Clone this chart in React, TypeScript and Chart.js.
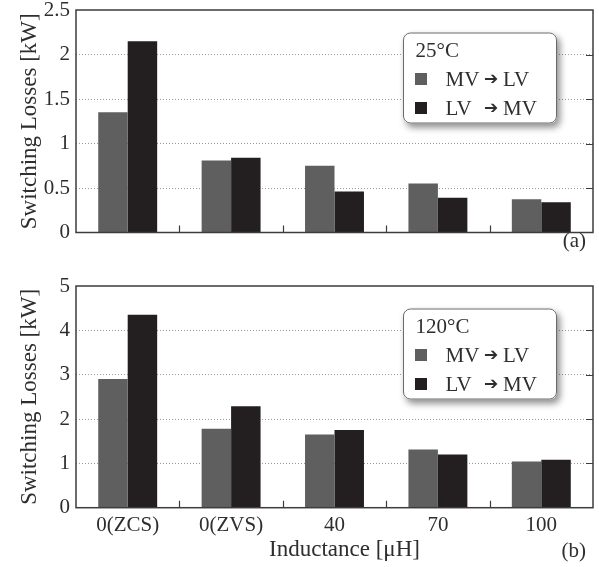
import React, { useEffect, useRef } from "react";
import { Chart, registerables } from "chart.js";

Chart.register(...registerables);

// ---------- data ----------
const categories = ["0(ZCS)", "0(ZVS)", "40", "70", "100"];
const legendFrom = ["MV", "LV"];
const legendTo = ["LV", "MV"];
const arrowGlyph = "➔";
const temperatures = ["25°C", "120°C"];
const panelLabels = ["(a)", "(b)"];
const yTitle = "Switching Losses [kW]";
const xTitle = "Inductance [μH]";

const mvToLv25 = [1.35, 0.81, 0.75, 0.55, 0.375];
const lvToMv25 = [2.15, 0.84, 0.46, 0.39, 0.34];
const mvToLv120 = [2.9, 1.78, 1.65, 1.31, 1.04];
const lvToMv120 = [4.35, 2.29, 1.75, 1.2, 1.08];

const yMax25 = 2.5;
const yStep25 = 0.5;
const yMax120 = 5;
const yStep120 = 1;

// ---------- styles ----------
const SERIF = '"Liberation Serif", "Times New Roman", serif';
const GRAY = "#5f5f5f";
const BLACK = "#231f20";
const TEXT = "#2e2e2e";
const FRAME = "#3c3c3c";

const decorPlugin = {
  id: "decor",
  afterDraw(chart: any, _args: any, opts: any) {
    const { ctx, chartArea: a, scales } = chart;
    const xs = scales.x;
    const ys = scales.y;
    ctx.save();

    // frame
    ctx.strokeStyle = FRAME;
    ctx.lineWidth = 1.5;
    ctx.strokeRect(a.left, a.top, a.right - a.left, a.bottom - a.top);

    // inward ticks on bottom (between categories)
    ctx.lineWidth = 1.2;
    ctx.beginPath();
    for (let i = 1; i < categories.length; i++) {
      const px = Math.round((xs.getPixelForTick(i - 1) + xs.getPixelForTick(i)) / 2) + 0.5;
      ctx.moveTo(px, a.bottom);
      ctx.lineTo(px, a.bottom - 7);
    }
    // inward ticks on right side
    ys.ticks.forEach((t: any) => {
      if (t.value > ys.min && t.value < ys.max) {
        const py = Math.round(ys.getPixelForValue(t.value)) + 0.5;
        ctx.moveTo(a.right, py);
        ctx.lineTo(a.right - 7, py);
      }
    });
    ctx.stroke();

    // y title
    ctx.fillStyle = TEXT;
    ctx.font = `23px ${SERIF}`;
    ctx.textAlign = "center";
    ctx.textBaseline = "middle";
    ctx.save();
    ctx.translate(29.5, (a.top + a.bottom) / 2);
    ctx.rotate(-Math.PI / 2);
    ctx.fillText(yTitle, 0, 0);
    ctx.restore();

    // x title
    if (opts.showXTitle) {
      ctx.textBaseline = "alphabetic";
      ctx.textAlign = "center";
      ctx.font = `23px ${SERIF}`;
      ctx.fillText(xTitle, (a.left + a.right) / 2 + 10, a.bottom + 48.5);
    }

    // panel label
    ctx.font = `21px ${SERIF}`;
    ctx.textAlign = "right";
    ctx.textBaseline = "alphabetic";
    ctx.fillText(opts.panel, a.right - 7, a.bottom + opts.panelDy);

    // legend box
    const w = 154;
    const h = 91;
    const lx = a.right - 36 - w;
    const ly = a.top + 22.5;
    ctx.save();
    ctx.shadowColor = "rgba(0,0,0,0.45)";
    ctx.shadowBlur = 7;
    ctx.shadowOffsetX = 3;
    ctx.shadowOffsetY = 4;
    ctx.beginPath();
    ctx.roundRect(lx, ly, w, h, 7);
    ctx.fillStyle = "#ffffff";
    ctx.fill();
    ctx.restore();
    ctx.beginPath();
    ctx.roundRect(lx + 0.5, ly + 0.5, w - 1, h - 1, 7);
    ctx.strokeStyle = "#6a6a6a";
    ctx.lineWidth = 1;
    ctx.stroke();

    ctx.fillStyle = TEXT;
    ctx.textAlign = "left";
    ctx.textBaseline = "alphabetic";
    ctx.font = `21px ${SERIF}`;
    ctx.fillText(opts.temp, lx + 12.5, ly + 24.5);

    const colors = [GRAY, BLACK];
    for (let i = 0; i < 2; i++) {
      const rowY = ly + 40.5 + i * 29;
      ctx.fillStyle = colors[i];
      ctx.fillRect(lx + 12, rowY, 12, 12);
      ctx.fillStyle = TEXT;
      ctx.font = `21px ${SERIF}`;
      ctx.fillText(legendFrom[i], lx + 42.5, rowY + 13.3);
      ctx.font = `bold 17px "DejaVu Sans", sans-serif`;
      ctx.textBaseline = "middle";
      ctx.fillText(arrowGlyph, lx + 81, rowY + 7);
      ctx.textBaseline = "alphabetic";
      ctx.font = `21px ${SERIF}`;
      ctx.fillText(legendTo[i], lx + 100, rowY + 13.3);
    }

    ctx.restore();
  },
};

type PanelProps = {
  top: number;
  height: number;
  padTop: number;
  xAxisHeight: number;
  mv: number[];
  lv: number[];
  yMax: number;
  yStep: number;
  temp: string;
  panel: string;
  panelDy: number;
  showX: boolean;
};

function Panel(p: PanelProps) {
  const ref = useRef<HTMLCanvasElement>(null);
  useEffect(() => {
    if (!ref.current) return;
    const chart = new Chart(ref.current, {
      type: "bar",
      data: {
        labels: categories,
        datasets: [
          { label: legendFrom[0] + " " + arrowGlyph + " " + legendTo[0], data: p.mv, backgroundColor: GRAY, borderWidth: 0 },
          { label: legendFrom[1] + " " + arrowGlyph + " " + legendTo[1], data: p.lv, backgroundColor: BLACK, borderWidth: 0 },
        ],
      },
      options: {
        animation: false,
        responsive: false,
        maintainAspectRatio: false,
        events: [],
        layout: { padding: { top: p.padTop, right: 6, left: 0, bottom: 0 } },
        datasets: { bar: { categoryPercentage: 0.57, barPercentage: 1.0 } },
        plugins: {
          legend: { display: false },
          tooltip: { enabled: false },
          decor: { temp: p.temp, panel: p.panel, panelDy: p.panelDy, showXTitle: p.showX },
        } as any,
        scales: {
          x: {
            offset: true,
            grid: { display: false, drawTicks: false },
            border: { display: false },
            ticks: {
              display: p.showX,
              padding: 5,
              color: TEXT,
              font: { family: SERIF, size: 21 },
              maxRotation: 0,
              autoSkip: false,
            },
            afterFit: (s: any) => {
              s.height = p.xAxisHeight;
            },
          },
          y: {
            min: 0,
            max: p.yMax,
            grid: {
              drawTicks: false,
              color: (c: any) =>
                c.tick && c.tick.value > 0 && c.tick.value < p.yMax ? "#9a9a9a" : "rgba(0,0,0,0)",
              lineWidth: 1,
            },
            border: { display: false, dash: [1, 2] },
            ticks: {
              stepSize: p.yStep,
              padding: 6,
              color: TEXT,
              font: { family: SERIF, size: 21 },
              callback: (v: any) => String(v),
            },
            afterFit: (s: any) => {
              s.width = 76;
            },
          },
        },
      },
      plugins: [decorPlugin],
    });
    return () => chart.destroy();
  }, []);
  return (
    <canvas
      ref={ref}
      width={599}
      height={p.height}
      style={{ position: "absolute", left: 0, top: p.top, width: 599, height: p.height }}
    />
  );
}

export default function App() {
  return (
    <div style={{ position: "absolute", left: 0, top: 0, width: 599, height: 567, background: "#fff", overflow: "hidden" }}>
      <Panel
        top={-10}
        height={270}
        padTop={20}
        xAxisHeight={27.5}
        mv={mvToLv25}
        lv={lvToMv25}
        yMax={yMax25}
        yStep={yStep25}
        temp={temperatures[0]}
        panel={panelLabels[0]}
        panelDy={14.5}
        showX={false}
      />
      <Panel
        top={260}
        height={307}
        padTop={26}
        xAxisHeight={59.3}
        mv={mvToLv120}
        lv={lvToMv120}
        yMax={yMax120}
        yStep={yStep120}
        temp={temperatures[1]}
        panel={panelLabels[1]}
        panelDy={49.5}
        showX={true}
      />
    </div>
  );
}
